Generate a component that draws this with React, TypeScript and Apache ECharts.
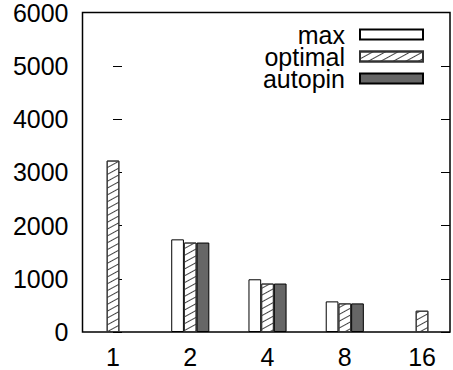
import React, { useEffect, useRef } from "react";
import * as echarts from "echarts";

const categories = ["1", "2", "4", "8", "16"];
const maxValues: (number | null)[] = [null, 1740, 990, 575, null];
const optimalValues: (number | null)[] = [3220, 1680, 910, 537, 400];
const autopinValues: (number | null)[] = [null, 1680, 910, 537, null];
const yTicks = [0, 1000, 2000, 3000, 4000, 5000, 6000];

const FONT = "Liberation Sans, Arial, Helvetica, sans-serif";

function pairs(vals: (number | null)[]) {
  return vals.map((v, i) => [i, v]);
}

export default function App() {
  const ref = useRef<HTMLDivElement>(null);
  useEffect(() => {
    if (!ref.current) return;
    const chart = echarts.init(ref.current, null, { renderer: "svg" });
    const hatch = {
      symbol: "rect",
      symbolSize: 1,
      dashArrayX: [1, 0],
      dashArrayY: [1, 5],
      rotation: -0.5,
      color: "#444",
    };
    chart.setOption({
      animation: false,
      backgroundColor: "#fff",
      grid: {
        left: 82.5,
        top: 11.7,
        right: 3,
        bottom: 38,
        show: true,
        borderColor: "#000",
        borderWidth: 1.5,
        backgroundColor: "transparent",
      },
      legend: {
        orient: "vertical",
        right: 29,
        top: 22,
        padding: 0,
        align: "right",
        icon: "rect",
        itemWidth: 63,
        itemHeight: 10,
        itemGap: -3,
        selectedMode: false,
        textStyle: {
          fontFamily: FONT,
          fontSize: 25,
          lineHeight: 21,
          color: "#000",
          padding: [0, 10, 0, 0],
        },
        data: ["max", "optimal", "autopin"],
      },
      xAxis: {
        type: "value",
        min: -0.395,
        max: 4.362,
        axisLine: { show: false },
        axisTick: { show: false },
        splitLine: { show: false },
        axisLabel: {
          customValues: [0, 1, 2, 3, 4],
          formatter: (v: number) => categories[Math.round(v)] ?? "",
          fontFamily: FONT,
          fontSize: 25,
          color: "#000",
          margin: 12,
        },
      },
      yAxis: [
        {
          type: "value",
          min: yTicks[0],
          max: yTicks[yTicks.length - 1],
          interval: 1000,
          axisLine: { show: false },
          axisTick: { show: true, inside: true, length: 9, lineStyle: { color: "#000", width: 1 } },
          splitLine: { show: false },
          axisLabel: {
            fontFamily: FONT,
            fontSize: 25,
            color: "#000",
            margin: 14,
            formatter: (v: number) => String(v),
          },
        },
        {
          type: "value",
          position: "right",
          min: yTicks[0],
          max: yTicks[yTicks.length - 1],
          interval: 1000,
          axisLine: { show: false },
          axisTick: { show: true, inside: true, length: 9, lineStyle: { color: "#000", width: 1 } },
          splitLine: { show: false },
          axisLabel: { show: false },
        },
      ],
      series: [
        {
          name: "max",
          type: "bar",
          data: pairs(maxValues),
          barWidth: 12.7,
          barGap: "0%",
          itemStyle: { color: "#fff", borderColor: "#000", borderWidth: 1 },
        },
        {
          name: "optimal",
          type: "bar",
          data: pairs(optimalValues),
          barWidth: 12.7,
          barGap: "0%",
          itemStyle: { color: "#fff", borderColor: "#333", borderWidth: 1, decal: hatch },
        },
        {
          name: "autopin",
          type: "bar",
          data: pairs(autopinValues),
          barWidth: 12.7,
          barGap: "0%",
          itemStyle: { color: "#666", borderColor: "#000", borderWidth: 1 },
        },
      ],
    });
    return () => chart.dispose();
  }, []);
  return <div ref={ref} style={{ width: 453, height: 370, position: "absolute", left: 0, top: 0 }} />;
}
